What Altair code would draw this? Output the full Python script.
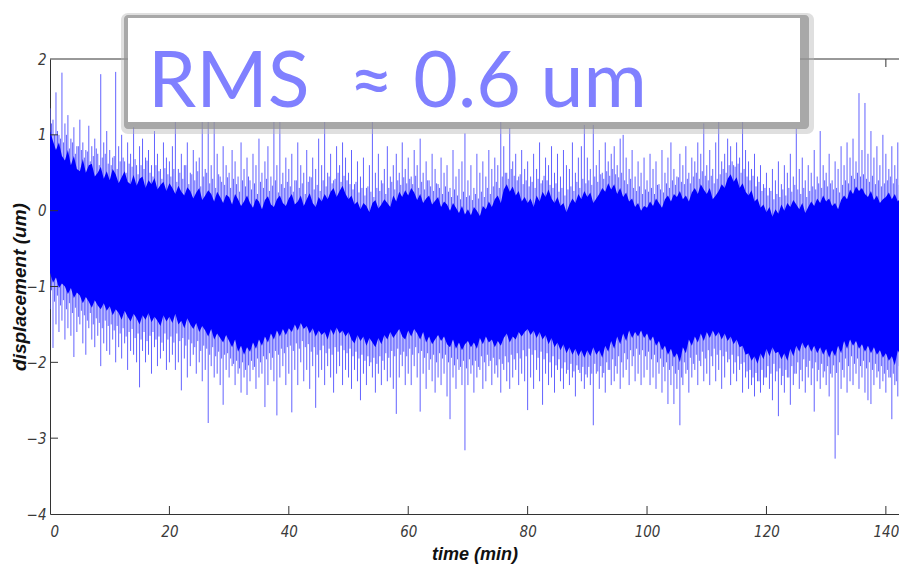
import altair as alt
import pandas as pd

# ---------------- data ----------------
STEP = 0.5      # minutes between samples
OFFSET = 0.25   # second (shorter) spike set sits half-way between samples

# tips of the long upward spikes (um), t = 0, 0.5, ..., 143.5
up_tips = [
    1.35, 1.2, 1.56, 1.0, 1.82, 1.15, 1.26, 0.95, 1.1, 0.85, 1.2, 0.9, 0.8, 1.12, 0.85, 0.95, 0.75, 1.8, 0.9, 1.05,
    0.8, 0.7, 1.83, 0.85, 1.0, 0.65, 0.9, 0.75, 1.1, 0.6, 0.85, 0.95, 0.7, 0.8, 0.6, 1.05, 0.75, 0.55, 0.9, 0.7,
    0.65, 0.85, 1.25, 0.55, 0.75, 0.6, 0.9, 0.5, 0.8, 0.65, 0.7, 1.3, 0.55, 1.25, 0.6, 1.3, 0.75, 0.45, 0.85, 0.6,
    0.5, 0.8, 0.65, 0.45, 0.9, 0.55, 0.7, 0.4, 0.75, 0.6, 0.95, 0.5, 0.65, 0.85, 0.45, 1.25, 0.6, 1.3, 0.5, 0.7,
    0.55, 0.75, 0.4, 0.9, 0.6, 0.5, 0.8, 0.45, 0.7, 0.55, 0.95, 0.6, 1.3, 0.5, 0.75, 0.4, 0.85, 0.6, 0.9, 0.7,
    0.5, 0.8, 0.35, 0.65, 0.45, 0.7, 0.3, 0.6, 1.3, 0.5, 0.75, 0.4, 0.55, 0.85, 0.45, 0.6, 0.75, 0.5, 0.9, 0.55,
    0.7, 0.45, 0.8, 0.6, 0.95, 0.5, 0.65, 0.4, 0.75, 0.55, 0.35, 0.7, 0.5, 0.6, 0.3, 0.8, 0.45, 0.55, 0.65, 1.02,
    0.4, 0.6, 0.3, 0.75, 0.5, 0.65, 0.45, 0.8, 0.55, 0.7, 0.6, 1.17, 0.85, 0.5, 1.09, 0.65, 0.75, 0.45, 0.8, 0.55,
    0.65, 0.45, 0.75, 0.55, 0.9, 0.4, 0.7, 0.6, 0.85, 0.5, 0.75, 0.45, 0.8, 0.6, 0.55, 0.9, 0.5, 0.7, 0.85, 1.13,
    0.7, 0.55, 1.13, 0.6, 0.8, 0.5, 0.9, 0.65, 0.75, 0.85, 0.6, 0.95, 1.0, 0.7, 0.55, 0.8, 0.45, 0.65, 0.5, 0.7,
    0.4, 0.75, 0.55, 0.65, 0.35, 0.8, 0.5, 0.7, 0.9, 0.55, 0.45, 0.75, 0.6, 0.85, 0.5, 0.7, 0.65, 0.9, 0.75, 1.15,
    0.6, 0.8, 0.55, 0.9, 1.17, 0.65, 0.75, 0.95, 0.85, 0.6, 0.9, 0.7, 1.17, 0.8, 0.65, 0.55, 0.75, 0.45, 0.6, 0.35,
    0.5, 0.3, 0.55, 0.4, 0.65, 0.35, 0.6, 0.5, 0.75, 0.45, 1.08, 0.55, 0.7, 0.4, 0.6, 0.5, 0.8, 0.45, 1.05, 0.6,
    0.5, 0.75, 0.4, 0.65, 0.55, 0.85, 0.6, 0.9, 0.7, 0.95, 0.65, 1.55, 0.8, 1.42, 0.75, 1.05, 0.7, 0.85, 0.6, 1.0,
    0.75, 0.55, 0.85, 0.6, 0.9, 0.65, 0.8, 0.7,
]

# tips of the long downward spikes (um), same sampling
down_tips = [
    -1.3, -1.81, -1.5, -1.6, -1.45, -1.7, -1.55, -1.65, -1.93, -1.6, -1.5, -1.75, -1.9, -1.55, -1.7, -1.8, -1.65, -2.05, -1.75, -1.85,
    -1.9, -1.7, -2.0, -1.8, -1.95, -1.75, -2.1, -1.85, -1.9, -2.0, -2.33, -1.85, -2.0, -1.9, -2.15, -1.8, -2.05, -1.95, -1.85, -2.1,
    -2.0, -1.9, -2.1, -2.0, -2.37, -1.95, -2.2, -2.05, -1.9, -2.15, -2.0, -2.25, -2.1, -2.8, -2.05, -2.2, -2.15, -2.3, -2.56, -2.1,
    -2.2, -2.05, -2.3, -2.15, -2.4, -2.2, -2.43, -2.25, -2.1, -2.35, -2.2, -2.15, -2.59, -2.3, -2.1, -2.25, -2.7, -2.2, -2.05, -2.3,
    -2.15, -2.66, -2.1, -2.3, -2.0, -2.25, -2.1, -2.35, -2.05, -2.6, -2.2, -2.1, -2.3, -2.05, -2.2, -2.4, -2.15, -2.05, -2.3, -2.1,
    -2.2, -2.35, -2.1, -2.25, -2.5, -2.15, -2.3, -2.05, -2.2, -2.4, -2.15, -2.3, -2.1, -2.25, -2.2, -2.35, -2.68, -2.2, -2.05, -2.3,
    -2.15, -2.3, -2.05, -2.2, -2.65, -2.15, -2.35, -2.1, -2.25, -2.4, -2.2, -2.3, -2.15, -2.45, -2.75, -2.2, -2.35, -2.1, -2.3, -3.16,
    -2.3, -2.15, -2.4, -2.2, -2.1, -2.35, -2.25, -2.05, -2.3, -2.15, -2.2, -2.4, -2.1, -2.25, -2.35, -2.2, -2.1, -2.3, -2.15, -2.25,
    -2.63, -2.2, -2.35, -2.1, -2.25, -2.56, -2.15, -2.3, -2.2, -2.4, -2.1, -2.25, -2.35, -2.15, -2.3, -2.2, -2.45, -2.1, -2.25, -2.35,
    -2.2, -2.3, -2.83, -2.15, -2.35, -2.2, -2.4, -2.1, -2.3, -2.25, -2.15, -2.35, -2.2, -2.1, -2.3, -2.05, -2.25, -2.15, -2.3, -2.2,
    -2.1, -2.3, -2.2, -2.35, -2.15, -2.4, -2.25, -2.55, -2.3, -2.55, -2.35, -2.83, -2.3, -2.15, -2.4, -2.2, -2.1, -2.3, -2.05, -2.25,
    -2.15, -2.3, -2.05, -2.25, -2.1, -2.35, -2.2, -2.0, -2.3, -2.15, -2.25, -2.1, -2.4, -2.2, -2.35, -2.3, -2.45, -2.25, -2.4, -2.3,
    -2.2, -2.35, -2.5, -2.25, -2.71, -2.3, -2.4, -2.2, -2.56, -2.3, -2.15, -2.35, -2.25, -2.4, -2.2, -2.3, -2.65, -2.25, -2.35, -2.2,
    -2.3, -2.45, -2.2, -3.27, -2.96, -2.35, -2.2, -2.4, -2.25, -2.3, -2.15, -2.35, -2.2, -2.4, -2.5, -2.55, -2.3, -2.2, -2.35, -2.25,
    -2.4, -2.2, -2.75, -2.3, -2.45, -2.2, -2.35, -2.25,
]

# tips of the shorter upward spikes, t = 0.25, 0.75, ..., 143.75
up_short = [
    1.15, 1.0, 1.05, 0.95, 0.9, 1.0, 0.82, 0.9, 0.75, 0.85, 0.8, 0.7, 0.78, 0.65, 0.72, 0.82, 0.6, 0.7, 0.75, 0.62,
    0.6, 0.72, 0.55, 0.65, 0.7, 0.5, 0.62, 0.58, 0.68, 0.48, 0.6, 0.55, 0.66, 0.5, 0.45, 0.6, 0.52, 0.42, 0.56, 0.48,
    0.45, 0.55, 0.38, 0.5, 0.42, 0.6, 0.35, 0.48, 0.4, 0.52, 0.32, 0.45, 0.5, 0.36, 0.42, 0.3, 0.48, 0.38, 0.34, 0.44,
    0.3, 0.42, 0.35, 0.25, 0.4, 0.32, 0.45, 0.28, 0.36, 0.22, 0.38, 0.3, 0.42, 0.26, 0.33, 0.4, 0.24, 0.35, 0.3, 0.38,
    0.32, 0.25, 0.4, 0.3, 0.36, 0.22, 0.38, 0.44, 0.28, 0.34, 0.26, 0.4, 0.32, 0.45, 0.36, 0.42, 0.5, 0.38, 0.46, 0.4,
    0.35, 0.28, 0.38, 0.24, 0.3, 0.2, 0.32, 0.25, 0.18, 0.3, 0.26, 0.36, 0.22, 0.3, 0.38, 0.28, 0.4, 0.34, 0.44, 0.36,
    0.42, 0.35, 0.46, 0.3, 0.38, 0.28, 0.4, 0.32, 0.26, 0.36, 0.3, 0.22, 0.32, 0.25, 0.18, 0.28, 0.2, 0.15, 0.25, 0.18,
    0.2, 0.14, 0.22, 0.16, 0.25, 0.18, 0.3, 0.22, 0.32, 0.38, 0.3, 0.45, 0.5, 0.42, 0.55, 0.46, 0.4, 0.48, 0.35, 0.4,
    0.32, 0.38, 0.3, 0.42, 0.36, 0.46, 0.4, 0.34, 0.3, 0.36, 0.25, 0.3, 0.2, 0.28, 0.32, 0.26, 0.38, 0.3, 0.42, 0.36,
    0.4, 0.34, 0.45, 0.38, 0.48, 0.42, 0.52, 0.46, 0.55, 0.48, 0.44, 0.5, 0.4, 0.35, 0.42, 0.3, 0.26, 0.32, 0.22, 0.28,
    0.25, 0.3, 0.22, 0.34, 0.28, 0.24, 0.36, 0.3, 0.4, 0.34, 0.44, 0.38, 0.35, 0.42, 0.36, 0.45, 0.5, 0.42, 0.52, 0.46,
    0.4, 0.46, 0.36, 0.42, 0.48, 0.55, 0.5, 0.6, 0.65, 0.58, 0.62, 0.5, 0.55, 0.45, 0.4, 0.46, 0.32, 0.38, 0.26, 0.3,
    0.2, 0.26, 0.15, 0.22, 0.18, 0.28, 0.2, 0.3, 0.25, 0.34, 0.28, 0.22, 0.3, 0.18, 0.26, 0.32, 0.28, 0.36, 0.3, 0.4,
    0.32, 0.36, 0.28, 0.3, 0.24, 0.34, 0.4, 0.36, 0.46, 0.42, 0.5, 0.45, 0.48, 0.42, 0.38, 0.46, 0.35, 0.4, 0.32, 0.36,
    0.4, 0.45, 0.36, 0.42, 0.34, 0.4, 0.3, 0.36,
]

# tips of the shorter downward spikes, same offset sampling
down_short = [
    -1.05, -1.2, -1.12, -1.25, -1.18, -1.3, -1.22, -1.35, -1.28, -1.4, -1.32, -1.38, -1.45, -1.35, -1.5, -1.42, -1.48, -1.55, -1.45, -1.52,
    -1.5, -1.58, -1.52, -1.62, -1.55, -1.66, -1.6, -1.56, -1.68, -1.62, -1.7, -1.6, -1.72, -1.65, -1.6, -1.7, -1.66, -1.74, -1.62, -1.7,
    -1.66, -1.74, -1.62, -1.72, -1.68, -1.78, -1.7, -1.75, -1.8, -1.72, -1.85, -1.78, -1.82, -1.9, -1.8, -1.92, -1.86, -1.95, -1.9, -1.88,
    -1.95, -2.02, -1.98, -2.08, -2.0, -2.1, -2.04, -1.98, -2.06, -1.95, -2.0, -1.92, -1.96, -1.88, -1.94, -1.85, -1.9, -1.82, -1.88, -1.8,
    -1.78, -1.85, -1.75, -1.82, -1.72, -1.8, -1.76, -1.86, -1.8, -1.9, -1.84, -1.78, -1.88, -1.82, -1.9, -1.8, -1.86, -1.78, -1.84, -1.88,
    -1.82, -1.92, -1.86, -1.95, -1.9, -1.98, -1.92, -2.0, -1.94, -2.02, -1.92, -1.98, -1.88, -1.94, -1.85, -1.92, -1.82, -1.9, -1.86, -1.92,
    -1.82, -1.9, -1.8, -1.88, -1.85, -1.94, -1.88, -1.96, -1.9, -2.0, -1.88, -1.95, -1.9, -2.0, -1.94, -2.04, -1.96, -2.06, -1.98, -2.08,
    -1.96, -2.04, -1.98, -2.06, -1.92, -2.0, -1.9, -1.98, -1.94, -2.04, -1.96, -2.02, -1.92, -2.0, -1.9, -1.96, -1.88, -1.95, -1.84, -1.92,
    -1.82, -1.9, -1.84, -1.94, -1.86, -1.96, -1.88, -2.0, -1.92, -2.04, -1.96, -2.08, -2.0, -2.1, -2.02, -2.12, -2.04, -2.14, -2.06, -2.16,
    -2.06, -2.15, -2.02, -2.12, -2.05, -2.14, -2.0, -2.1, -1.96, -2.05, -1.92, -2.0, -1.88, -1.96, -1.84, -1.92, -1.82, -1.9, -1.84, -1.92,
    -1.86, -1.96, -1.9, -2.0, -1.95, -2.06, -2.0, -2.1, -2.05, -2.15, -2.1, -2.2, -2.0, -2.1, -1.94, -2.02, -1.9, -1.98, -1.86, -1.95,
    -1.84, -1.92, -1.82, -1.9, -1.84, -1.92, -1.86, -1.96, -1.9, -2.0, -1.92, -2.02, -2.0, -2.12, -2.1, -2.2, -2.14, -2.25, -2.1, -2.2,
    -2.05, -2.15, -2.02, -2.12, -2.08, -2.18, -2.1, -2.2, -2.05, -2.15, -2.0, -2.1, -1.96, -2.06, -1.98, -2.08, -2.0, -2.1, -2.02, -2.12,
    -2.05, -2.15, -2.04, -2.14, -2.0, -2.1, -1.95, -2.05, -1.92, -2.02, -1.95, -2.05, -1.98, -2.08, -2.0, -2.1, -2.02, -2.12, -2.05, -2.15,
    -2.1, -2.2, -2.15, -2.25, -2.05, -2.15, -2.0, -2.1,
]

# upper / lower edge of the dense (solid) band, t = 0, 0.5, ..., 143.5
core_hi = [
    1.05, 0.92, 0.8, 0.9, 0.72, 0.66, 0.8, 0.6, 0.72, 0.55, 0.52, 0.68, 0.5, 0.6, 0.62, 0.45, 0.5, 0.58, 0.42, 0.52,
    0.4, 0.55, 0.48, 0.36, 0.44, 0.52, 0.38, 0.35, 0.47, 0.33, 0.42, 0.45, 0.3, 0.4, 0.35, 0.43, 0.28, 0.34, 0.38, 0.26,
    0.36, 0.3, 0.22, 0.33, 0.25, 0.2, 0.31, 0.26, 0.16, 0.24, 0.3, 0.14, 0.2, 0.27, 0.22, 0.12, 0.25, 0.18, 0.1, 0.21,
    0.18, 0.08, 0.22, 0.15, 0.06, 0.12, 0.2, 0.1, 0.04, 0.16, 0.12, 0.02, 0.14, 0.19, 0.08, 0.05, 0.15, 0.2, 0.1, 0.06,
    0.16, 0.22, 0.08, 0.12, 0.2, 0.06, 0.15, 0.23, 0.1, 0.05, 0.18, 0.12, 0.22, 0.15, 0.25, 0.3, 0.18, 0.26, 0.33, 0.22,
    0.15, 0.2, 0.08, 0.12, 0.02, 0.1, 0.06, -0.02, 0.1, 0.14, 0.03, 0.08, 0.15, 0.1, 0.05, 0.2, 0.12, 0.25, 0.18, 0.27,
    0.2, 0.3, 0.24, 0.14, 0.22, 0.1, 0.16, 0.2, 0.08, 0.13, 0.18, 0.05, 0.12, 0.08, 0.0, 0.1, 0.04, -0.03, 0.06, -0.05,
    0.02, -0.06, 0.05, 0.0, -0.07, 0.06, 0.02, 0.12, 0.05, 0.15, 0.2, 0.1, 0.28, 0.35, 0.25, 0.32, 0.2, 0.26, 0.12, 0.18,
    0.1, 0.16, 0.05, 0.2, 0.12, 0.25, 0.18, 0.28, 0.16, 0.1, 0.18, 0.06, 0.1, -0.02, 0.08, 0.16, 0.1, 0.22, 0.15, 0.26,
    0.18, 0.24, 0.1, 0.16, 0.22, 0.3, 0.25, 0.36, 0.28, 0.35, 0.22, 0.3, 0.18, 0.24, 0.12, 0.16, 0.05, 0.1, 0.0, 0.06,
    0.04, 0.12, 0.06, 0.16, 0.1, 0.04, 0.15, 0.2, 0.12, 0.22, 0.18, 0.26, 0.15, 0.2, 0.12, 0.24, 0.3, 0.22, 0.35, 0.28,
    0.22, 0.3, 0.15, 0.2, 0.26, 0.35, 0.3, 0.42, 0.48, 0.38, 0.44, 0.3, 0.36, 0.25, 0.2, 0.27, 0.12, 0.16, 0.04, 0.08,
    -0.02, 0.05, -0.08, 0.02, -0.04, 0.08, 0.0, 0.1, 0.05, 0.14, 0.08, 0.02, 0.1, -0.03, 0.05, 0.12, 0.06, 0.16, 0.1, 0.2,
    0.12, 0.16, 0.06, 0.1, 0.02, 0.14, 0.2, 0.15, 0.28, 0.22, 0.32, 0.26, 0.3, 0.22, 0.18, 0.26, 0.14, 0.2, 0.1, 0.15,
    0.18, 0.24, 0.15, 0.22, 0.12, 0.18, 0.08, 0.14,
]
core_lo = [
    -0.82, -0.95, -0.88, -1.02, -0.96, -1.0, -1.1, -1.02, -1.15, -1.08, -1.12, -1.22, -1.14, -1.2, -1.28, -1.18, -1.25, -1.3, -1.22, -1.32,
    -1.26, -1.38, -1.3, -1.35, -1.44, -1.32, -1.4, -1.46, -1.36, -1.42, -1.5, -1.38, -1.44, -1.35, -1.47, -1.4, -1.45, -1.52, -1.38, -1.46,
    -1.4, -1.48, -1.36, -1.5, -1.45, -1.55, -1.42, -1.5, -1.56, -1.48, -1.6, -1.52, -1.58, -1.66, -1.56, -1.7, -1.62, -1.68, -1.74, -1.64,
    -1.72, -1.8, -1.7, -1.86, -1.78, -1.9, -1.8, -1.86, -1.74, -1.82, -1.7, -1.78, -1.66, -1.74, -1.62, -1.7, -1.58, -1.66, -1.56, -1.64,
    -1.55, -1.6, -1.5, -1.58, -1.48, -1.56, -1.52, -1.62, -1.55, -1.66, -1.58, -1.64, -1.6, -1.7, -1.56, -1.64, -1.54, -1.62, -1.58, -1.66,
    -1.6, -1.7, -1.75, -1.64, -1.72, -1.66, -1.78, -1.68, -1.74, -1.8, -1.68, -1.76, -1.64, -1.7, -1.6, -1.68, -1.62, -1.56, -1.66, -1.7,
    -1.58, -1.66, -1.56, -1.62, -1.7, -1.6, -1.74, -1.66, -1.76, -1.7, -1.64, -1.72, -1.66, -1.76, -1.8, -1.7, -1.82, -1.74, -1.84, -1.76,
    -1.72, -1.8, -1.74, -1.82, -1.68, -1.76, -1.66, -1.74, -1.7, -1.8, -1.72, -1.78, -1.68, -1.62, -1.74, -1.66, -1.7, -1.6, -1.66, -1.6,
    -1.56, -1.64, -1.58, -1.68, -1.6, -1.7, -1.64, -1.76, -1.68, -1.8, -1.74, -1.84, -1.76, -1.88, -1.8, -1.9, -1.82, -1.92, -1.84, -1.94,
    -1.84, -1.92, -1.8, -1.9, -1.84, -1.94, -1.78, -1.86, -1.72, -1.82, -1.66, -1.76, -1.62, -1.72, -1.58, -1.68, -1.6, -1.66, -1.58, -1.68,
    -1.62, -1.72, -1.66, -1.78, -1.72, -1.84, -1.78, -1.9, -1.82, -1.94, -1.88, -2.0, -1.8, -1.88, -1.7, -1.78, -1.66, -1.74, -1.62, -1.72,
    -1.6, -1.68, -1.58, -1.66, -1.6, -1.7, -1.62, -1.72, -1.66, -1.76, -1.7, -1.8, -1.78, -1.9, -1.88, -1.98, -1.92, -2.02, -1.88, -1.96,
    -1.82, -1.92, -1.8, -1.88, -1.86, -1.96, -1.88, -1.98, -1.82, -1.92, -1.78, -1.86, -1.74, -1.82, -1.76, -1.86, -1.78, -1.88, -1.8, -1.9,
    -1.82, -1.94, -1.84, -1.92, -1.78, -1.88, -1.72, -1.82, -1.7, -1.78, -1.72, -1.82, -1.76, -1.86, -1.78, -1.88, -1.8, -1.9, -1.84, -1.94,
    -1.88, -1.98, -1.92, -2.04, -1.84, -1.92, -1.78, -1.88,
]

x_tick_values = [0, 20, 40, 60, 80, 100, 120, 140]
x_inner_ticks = [20, 40, 60, 80, 100, 120, 140]
y_tick_values = [-4, -3, -2, -1, 0, 1, 2]
y_inner_ticks = [-3, -2, -1, 0, 1]
X_MAX = 142.2
SPIKE_BASE = -0.6
annotation = "RMS\u00a0 \u2248 0.6 um"

# ---------------- tables ----------------
t_grid = [i * STEP for i in range(len(up_tips))]
t_mid = [i * STEP + OFFSET for i in range(len(up_short))]
spikes = pd.DataFrame({"t": t_grid + t_mid,
                       "up": up_tips + up_short,
                       "down": down_tips + down_short,
                       "base": SPIKE_BASE})
core = pd.DataFrame({"t": t_grid, "hi": core_hi, "lo": core_lo})
one = pd.DataFrame({"a": [0]})

W, H = 849, 455
xs = alt.Scale(domain=[0, X_MAX], nice=False, zero=False)
ys = alt.Scale(domain=[-4, 2], nice=False, zero=False)
x_axis = alt.Axis(values=x_tick_values, title="time (min)", labelPadding=10, titlePadding=6)
y_axis = alt.Axis(values=y_tick_values, title="displacement (um)", labelPadding=4,
                  titleX=-21, titleBaseline="bottom", titleFontSize=19)


def X(field):
    return alt.X(field, type="quantitative", scale=xs, axis=x_axis)


def Y(field):
    return alt.Y(field, type="quantitative", scale=ys, axis=y_axis)


SPIKE_COLOR = "#6262ff"
up = alt.Chart(spikes).mark_rule(color=SPIKE_COLOR, strokeWidth=1, clip=True).encode(
    x=X("t"), y=Y("up"), y2="base:Q")
down = alt.Chart(spikes).mark_rule(color=SPIKE_COLOR, strokeWidth=1, clip=True).encode(
    x=X("t"), y=Y("down"), y2="base:Q")
band = alt.Chart(core).mark_area(color="#0000ff", clip=True, opacity=1).encode(
    x=X("t"), y=Y("lo"), y2="hi:Q")

AX = "#333333"
xt_df = pd.DataFrame({"v": x_inner_ticks})
yt_df = pd.DataFrame({"v": y_inner_ticks})
xt_bottom = alt.Chart(xt_df).mark_rule(color=AX, strokeWidth=1).encode(
    x=X("v"), y=alt.value(H), y2=alt.value(H - 8))
xt_top = alt.Chart(xt_df).mark_rule(color=AX, strokeWidth=1).encode(
    x=X("v"), y=alt.value(0), y2=alt.value(8))
yt_left = alt.Chart(yt_df).mark_rule(color=AX, strokeWidth=1).encode(
    y=Y("v"), x=alt.value(0), x2=alt.value(8))
top_line = alt.Chart(one).mark_rule(color=AX, strokeWidth=1).encode(
    x=alt.value(0), x2=alt.value(W), y=alt.value(0))

# annotation box with a soft shadow (offset to lower right)
shadow1 = alt.Chart(one).mark_rect(color="#b8b8b8", opacity=0.45, cornerRadius=7).encode(
    x=alt.value(71), x2=alt.value(764), y=alt.value(-46), y2=alt.value(75))
shadow2 = alt.Chart(one).mark_rect(color="#909090", opacity=0.7, cornerRadius=4).encode(
    x=alt.value(74), x2=alt.value(759), y=alt.value(-44), y2=alt.value(70))
box = alt.Chart(one).mark_rect(color="#ffffff").encode(
    x=alt.value(78), x2=alt.value(750), y=alt.value(-41), y2=alt.value(63))
label = alt.Chart(one).mark_text(
    color="#8080ff", font="Lato", fontSize=77, align="left", baseline="alphabetic"
).encode(x=alt.value(98), y=alt.value(48), text=alt.value(annotation))

FONT = "Liberation Sans Narrow, DejaVu Sans Condensed, Liberation Sans"
chart = alt.layer(
    up, down, band, xt_bottom, xt_top, yt_left, top_line, shadow1, shadow2, box, label
).properties(
    width=W, height=H,
    autosize=alt.AutoSizeParams(type="none"),
    padding={"left": 42, "top": 51, "right": 0, "bottom": 50},
).configure_view(stroke=None).configure_axis(
    domainColor=AX, domainWidth=1, ticks=False, grid=False,
    labelFont=FONT, labelFontStyle="italic", labelFontSize=15, labelColor="#3a3a3a",
    titleFont="Liberation Sans", titleFontStyle="italic", titleFontWeight="bold",
    titleFontSize=18, titleColor="#111111",
)

chart.save("out.html", embed_options={"renderer": "svg", "actions": False})
